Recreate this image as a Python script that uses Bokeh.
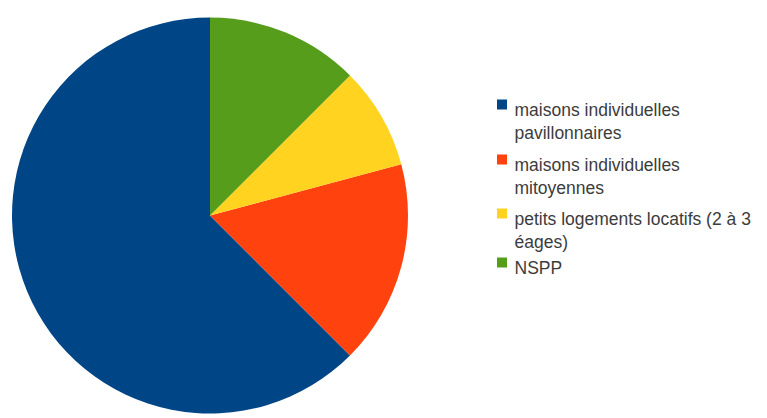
import numpy as np
from bokeh.plotting import figure
from bokeh.models import ColumnDataSource, Range1d
from bokeh.core.properties import value
from bokeh.embed import file_html
from bokeh.resources import INLINE

# ---- data ----
categories = [
    "maisons individuelles pavillonnaires",
    "maisons individuelles mitoyennes",
    "petits logements locatifs (2 à 3 éages)",
    "NSPP",
]
legend_lines = [
    ["maisons individuelles", "pavillonnaires"],
    ["maisons individuelles", "mitoyennes"],
    ["petits logements locatifs (2 à 3", "éages)"],
    ["NSPP"],
]
values = [15, 4, 2, 3]
colors = ["#004586", "#ff420e", "#ffd320", "#579d1c"]

W, H = 767, 418
p = figure(width=W, height=H, output_backend="svg", toolbar_location=None,
           x_range=Range1d(0, W), y_range=Range1d(0, H), min_border=0)
p.axis.visible = False
p.grid.visible = False
p.outline_line_color = None
p.background_fill_color = "white"

# pie (counter-clockwise from 12 o'clock)
vals = np.array(values, dtype=float)
frac = vals / vals.sum()
ends = np.pi / 2 + 2 * np.pi * np.cumsum(frac)
starts = np.concatenate([[np.pi / 2], ends[:-1]])
src = ColumnDataSource(dict(start=starts, end=ends, color=colors, cat=categories))
cx, cy, r = 209.5, H - 215.0, 198.0
p.wedge(x=cx, y=cy, radius=r, start_angle="start", end_angle="end",
        fill_color="color", line_color=None, source=src)

# legend
sq_centers = [104, 159, 213, 262]  # page y of item squares
sq_x = 501.5
txt_x = 514
line_h = 23.5
p.scatter(x=[sq_x] * 4, y=[H - c for c in sq_centers], marker="square",
          size=10, fill_color=colors, line_color=None)
tx, ty, tt = [], [], []
for c, lines in zip(sq_centers, legend_lines):
    for i, ln in enumerate(lines):
        tx.append(txt_x)
        ty.append(H - (c + 5) - i * line_h)
        tt.append(ln)
p.text(x=tx, y=ty, text=tt, text_font=value("Liberation Sans"),
       text_font_size="17.5px", text_color="#3c3c3c",
       text_baseline="alphabetic", text_align="left")

open("out.html", "w").write(file_html(p, INLINE))
